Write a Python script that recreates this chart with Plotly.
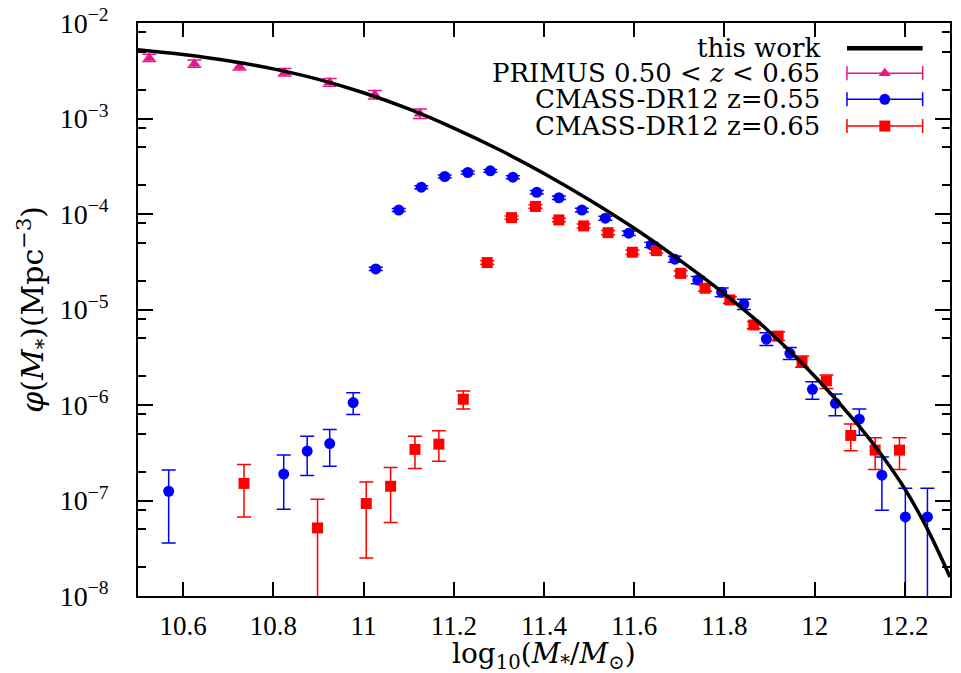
import plotly.graph_objects as go

# ---------------- data ----------------
# "this work" model curve
curve_x = [10.50, 10.60, 10.70, 10.80, 10.90, 11.00, 11.10, 11.20, 11.30, 11.40,
           11.50, 11.60, 11.70, 11.80, 11.90, 12.00, 12.10, 12.15, 12.20, 12.25, 12.30]
curve_phi = [5.25e-3, 4.68e-3, 4.03e-3, 3.31e-3, 2.57e-3, 1.86e-3, 1.26e-3, 7.94e-4, 4.73e-4, 2.66e-4,
             1.41e-4, 7.08e-5, 3.31e-5, 1.46e-5, 5.82e-6, 2.00e-6, 5.89e-7, 2.92e-7, 1.32e-7, 5.01e-8, 1.58e-8]

# PRIMUS 0.50 < z < 0.65
primus_x = [10.525, 10.625, 10.725, 10.825, 10.925, 11.025, 11.125]
primus_phi = [4.30e-3, 3.74e-3, 3.51e-3, 3.03e-3, 2.38e-3, 1.77e-3, 1.12e-3]
primus_lo = [3.95e-3, 3.44e-3, 3.22e-3, 2.78e-3, 2.17e-3, 1.60e-3, 1.00e-3]
primus_hi = [4.70e-3, 4.10e-3, 3.85e-3, 3.33e-3, 2.63e-3, 1.97e-3, 1.26e-3]

# CMASS-DR12 z=0.55
blue_x = [10.568, 10.823, 10.875, 10.925, 10.977, 11.027, 11.078, 11.128, 11.180, 11.231,
          11.281, 11.331, 11.384, 11.433, 11.484, 11.536, 11.588, 11.638, 11.690, 11.741,
          11.794, 11.843, 11.893, 11.945, 11.995, 12.046, 12.099, 12.149, 12.201, 12.250]
blue_phi = [1.25e-7, 1.89e-7, 3.29e-7, 3.95e-7, 1.06e-6, 2.66e-5, 1.10e-4, 1.91e-4, 2.47e-4, 2.72e-4,
            2.83e-4, 2.43e-4, 1.69e-4, 1.48e-4, 1.10e-4, 9.04e-5, 6.30e-5, 4.74e-5, 3.36e-5, 2.04e-5,
            1.52e-5, 1.14e-5, 4.91e-6, 3.48e-6, 1.46e-6, 1.04e-6, 7.11e-7, 1.84e-7, 6.73e-8, 6.73e-8]
blue_lo = [3.59e-8, 8.11e-8, 1.83e-7, 2.29e-7, 7.96e-7, 2.56e-5, 1.06e-4, 1.84e-4, 2.38e-4, 2.62e-4,
           2.73e-4, 2.34e-4, 1.62e-4, 1.42e-4, 1.05e-4, 8.60e-5, 5.95e-5, 4.45e-5, 3.12e-5, 1.86e-5,
           1.36e-5, 1.00e-5, 4.20e-6, 3.00e-6, 1.15e-6, 7.71e-7, 4.83e-7, 7.91e-8, 1.0e-9, 1.0e-9]
blue_hi = [2.08e-7, 2.99e-7, 4.72e-7, 5.55e-7, 1.34e-6, 2.77e-5, 1.14e-4, 1.98e-4, 2.56e-4, 2.82e-4,
           2.93e-4, 2.52e-4, 1.76e-4, 1.54e-4, 1.15e-4, 9.50e-5, 6.65e-5, 5.05e-5, 3.60e-5, 2.22e-5,
           1.68e-5, 1.28e-5, 5.70e-6, 4.00e-6, 1.75e-6, 1.30e-6, 9.06e-7, 2.86e-7, 1.34e-7, 1.34e-7]

# CMASS-DR12 z=0.65
red_x = [10.735, 10.898, 11.006, 11.060, 11.114, 11.167, 11.221, 11.274, 11.328, 11.381,
         11.433, 11.488, 11.542, 11.596, 11.649, 11.703, 11.757, 11.812, 11.865, 11.919,
         11.972, 12.026, 12.080, 12.134, 12.188]
red_phi = [1.51e-7, 5.16e-8, 9.31e-8, 1.41e-7, 3.43e-7, 3.89e-7, 1.15e-6, 3.10e-5, 9.16e-5, 1.20e-4,
           8.67e-5, 7.50e-5, 6.38e-5, 3.98e-5, 4.13e-5, 2.39e-5, 1.67e-5, 1.26e-5, 6.89e-6, 5.27e-6,
           2.84e-6, 1.79e-6, 4.80e-7, 3.37e-7, 3.37e-7]
red_lo = [6.73e-8, 1.0e-9, 2.50e-8, 5.87e-8, 2.16e-7, 2.58e-7, 9.06e-7, 2.97e-5, 8.80e-5, 1.15e-4,
          8.30e-5, 7.15e-5, 6.05e-5, 3.76e-5, 3.90e-5, 2.24e-5, 1.55e-5, 1.16e-5, 6.30e-6, 4.75e-6,
          2.48e-6, 1.49e-6, 3.31e-7, 2.11e-7, 2.11e-7]
red_hi = [2.38e-7, 1.03e-7, 1.56e-7, 2.22e-7, 4.72e-7, 5.37e-7, 1.40e-6, 3.23e-5, 9.55e-5, 1.25e-4,
          9.05e-5, 7.85e-5, 6.70e-5, 4.20e-5, 4.37e-5, 2.55e-5, 1.79e-5, 1.36e-5, 7.50e-6, 5.85e-6,
          3.25e-6, 2.06e-6, 6.31e-7, 4.53e-7, 4.53e-7]

x_tickvals = [10.6, 10.8, 11.0, 11.2, 11.4, 11.6, 11.8, 12.0, 12.2]
x_ticktext = ["10.6", "10.8", "11", "11.2", "11.4", "11.6", "11.8", "12", "12.2"]
y_exponents = [-8, -7, -6, -5, -4, -3, -2]

legend_labels = ["this work", "PRIMUS 0.50 &lt; <i>z</i> &lt; 0.65",
                 "CMASS-DR12 z=0.55", "CMASS-DR12 z=0.65"]

# ---------------- styles ----------------
MAGENTA = "#e8168c"
BLUE = "#0000ff"
RED = "#ff0000"
SERIF = "Liberation Serif, Times New Roman, serif"
WIDESERIF = "DejaVu Serif, serif"
XTICKFONT = dict(family=SERIF, size=27, color="black")
YTICKFONT = dict(family=SERIF, size=28, color="black")
LEGFONT = dict(family=WIDESERIF, size=26, color="black")


def err(vals, lo, hi):
    return dict(type="data", symmetric=False,
                array=[h - v for v, h in zip(vals, hi)],
                arrayminus=[v - l for v, l in zip(vals, lo)])


fig = go.Figure()

fig.add_trace(go.Scatter(
    x=primus_x, y=primus_phi, mode="markers",
    marker=dict(symbol="triangle-up", size=11, color=MAGENTA),
    error_y=dict(**err(primus_phi, primus_lo, primus_hi), color=MAGENTA, thickness=1.5, width=7),
    showlegend=False))

fig.add_trace(go.Scatter(
    x=blue_x, y=blue_phi, mode="markers",
    marker=dict(symbol="circle", size=11, color=BLUE),
    error_y=dict(**err(blue_phi, blue_lo, blue_hi), color=BLUE, thickness=1.5, width=7),
    showlegend=False))

fig.add_trace(go.Scatter(
    x=red_x, y=red_phi, mode="markers",
    marker=dict(symbol="square", size=11, color=RED),
    error_y=dict(**err(red_phi, red_lo, red_hi), color=RED, thickness=1.5, width=7),
    showlegend=False))

fig.add_trace(go.Scatter(
    x=curve_x, y=curve_phi, mode="lines",
    line=dict(color="black", width=3.5, shape="spline", smoothing=1.0),
    showlegend=False))

# ---------------- custom key (sample on the right, text right-aligned) ----------------
key_rows = [0.9558, 0.9122, 0.8668, 0.8202]
key_cx, key_half = 0.9197, 0.0466
key_text_x = 0.842

fig.add_trace(go.Scatter(
    x=[key_cx - key_half, key_cx + key_half], y=[key_rows[0]] * 2,
    xaxis="x2", yaxis="y2", mode="lines",
    line=dict(color="black", width=4.5), showlegend=False, hoverinfo="skip"))

for row, sym, col in zip(key_rows[1:], ["triangle-up", "circle", "square"], [MAGENTA, BLUE, RED]):
    fig.add_trace(go.Scatter(
        x=[key_cx], y=[row], xaxis="x2", yaxis="y2", mode="markers",
        marker=dict(symbol=sym, size=11, color=col),
        error_x=dict(type="constant", value=key_half, color=col, thickness=1.5, width=7),
        showlegend=False, hoverinfo="skip"))

annotations = []
for row, lab in zip(key_rows, legend_labels):
    annotations.append(dict(x=key_text_x, y=row, xref="paper", yref="paper",
                            text=lab, showarrow=False, xanchor="right", yanchor="middle",
                            font=LEGFONT))

# axis titles
annotations.append(dict(x=-0.129, y=0.5, xref="paper", yref="paper", textangle=-90,
                        text="<i>φ</i>(<i>M</i><sub>*</sub>)(Mpc<sup>−3</sup>)",
                        showarrow=False, xanchor="center", yanchor="middle",
                        font=dict(family=WIDESERIF, size=30, color="black")))
annotations.append(dict(x=0.5, y=-0.1035, xref="paper", yref="paper",
                        text="log<sub>10</sub>(<i>M</i><sub>*</sub>/<i>M</i><sub>⊙</sub>)",
                        showarrow=False, xanchor="center", yanchor="middle",
                        font=dict(family=WIDESERIF, size=28, color="black")))

y_tickvals = [10.0 ** e for e in y_exponents]
y_ticktext = ["10<sup>−%d</sup>" % (-e) for e in y_exponents]
y_minor = [m * 10.0 ** e for e in range(-8, -2) for m in (2, 5, 8)]

fig.update_layout(
    width=961, height=673,
    margin=dict(l=138, r=11, t=23, b=77, autoexpand=False),
    paper_bgcolor="white", plot_bgcolor="white",
    annotations=annotations,
    xaxis=dict(range=[10.5, 12.3], tickmode="array", tickvals=x_tickvals, ticktext=x_ticktext,
               ticks="inside", ticklen=14, tickwidth=1.5, tickcolor="black",
               showline=True, linecolor="black", linewidth=1.5, mirror="ticks",
               showgrid=False, zeroline=False, tickfont=XTICKFONT, ticklabelstandoff=5,
               automargin=False),
    yaxis=dict(type="log", range=[-8, -2], tickmode="array", tickvals=y_tickvals, ticktext=y_ticktext,
               ticks="inside", ticklen=15, tickwidth=1.5, tickcolor="black",
               minor=dict(tickmode="array", tickvals=y_minor, ticks="inside", ticklen=8,
                          tickwidth=1.5, tickcolor="black", showgrid=False),
               showline=True, linecolor="black", linewidth=1.5, mirror="ticks",
               showgrid=False, zeroline=False, tickfont=YTICKFONT, ticklabelstandoff=22,
               automargin=False),
    xaxis2=dict(overlaying="x", range=[0, 1], visible=False, fixedrange=True, automargin=False),
    yaxis2=dict(overlaying="y", range=[0, 1], visible=False, fixedrange=True, automargin=False),
    showlegend=False,
)

fig.write_html("out.html")
